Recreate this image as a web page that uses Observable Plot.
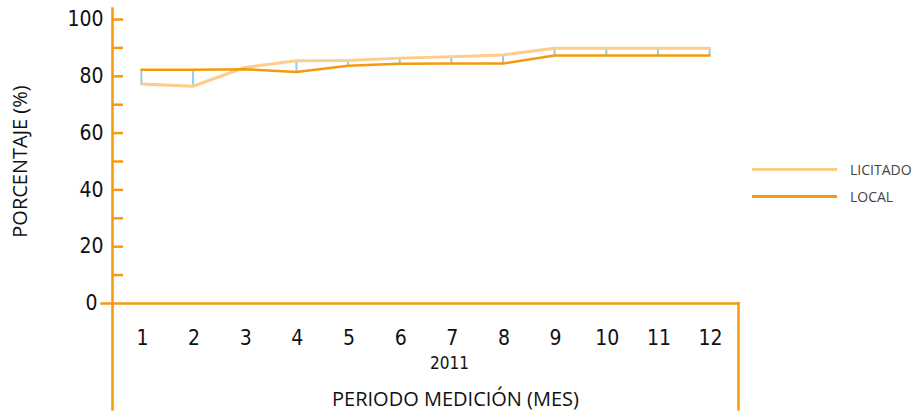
<!DOCTYPE html>
<html>
<head>
<meta charset="utf-8">
<script src="https://cdn.jsdelivr.net/npm/d3@7"></script>
<script src="https://cdn.jsdelivr.net/npm/@observablehq/plot@0.6"></script>
<style>
  html, body { margin: 0; padding: 0; background: #fff; }
  #wrap { position: relative; width: 919px; height: 420px; }
  .legend { position: absolute; left: 752px; font-family: 'Open Sans', sans-serif; font-size: 14px; color: #444; }
  .legend .item { position: absolute; left: 0; width: 170px; height: 20px; display: flex; align-items: center; }
  .legend .sw { width: 85px; height: 3px; margin-right: 13px; }
</style>
</head>
<body>
<div id="wrap"></div>
<script>
const months = [1, 2, 3, 4, 5, 6, 7, 8, 9, 10, 11, 12];
const licitado = [77.3, 76.5, 83.1, 85.5, 85.6, 86.4, 86.9, 87.5, 89.9, 89.9, 89.9, 89.9];
const local = [82.3, 82.3, 82.5, 81.5, 83.7, 84.4, 84.5, 84.5, 87.3, 87.3, 87.3, 87.3];
const seriesNames = ["LICITADO", "LOCAL"];
const seriesColors = ["#fdcd8a", "#f59a0c"];
const yLabeledTicks = [20, 40, 60, 80, 100];
const yAllTicks = [10, 20, 30, 40, 50, 60, 70, 80, 90, 100];
const yearLabel = "2011";
const xTitle = "PERIODO MEDICIÓN (MES)";
const yTitle = "PORCENTAJE (%)";

const axisColor = "#f59a0c";
const font = "'DejaVu Sans Condensed', sans-serif";
const titleFont = "'Open Sans', sans-serif";

const rows = [];
months.forEach((m, i) => {
  rows.push({month: m, value: licitado[i], series: seriesNames[0]});
  rows.push({month: m, value: local[i], series: seriesNames[1]});
});
const spans = months.map((m, i) => ({month: m, lo: Math.min(licitado[i], local[i]), hi: Math.max(licitado[i], local[i])}));

const chart = Plot.plot({
  width: 919,
  height: 420,
  marginLeft: 112,
  marginRight: 181,
  marginTop: 19,
  marginBottom: 117,
  style: {fontFamily: font, fontSize: "21px", color: "#111", background: "#fff"},
  x: {type: "point", domain: months, padding: 0.56, round: false, label: null},
  y: {domain: [0, 100], label: null},
  color: {domain: seriesNames, range: seriesColors},
  marks: [
    // axis frame lines
    Plot.frame({anchor: "left", stroke: axisColor, strokeWidth: 2.5, insetTop: -11, insetBottom: -106}),
    Plot.frame({anchor: "right", stroke: axisColor, strokeWidth: 2.5, insetTop: 284, insetBottom: -106}),
    Plot.frame({anchor: "bottom", stroke: axisColor, strokeWidth: 2.5, insetLeft: -11}),
    // inward ticks
    Plot.axisY({ticks: yAllTicks, tickSize: 11, dx: 11, stroke: axisColor, strokeWidth: 2.5, tickFormat: () => "", label: null}),
    // labels
    Plot.axisY({ticks: yLabeledTicks, tickSize: 0, tickPadding: 9, label: null, fill: "#111"}),
    Plot.axisY({ticks: [0], tickSize: 0, tickPadding: 15, label: null, fill: "#111"}),
    Plot.axisX({tickSize: 0, tickPadding: 27, label: null, dx: 1, fill: "#111"}),
    // high-low lines
    Plot.ruleX(spans, {x: "month", y1: "lo", y2: "hi", stroke: "#8ccfee", strokeWidth: 2}),
    // series lines
    Plot.line(rows, {x: "month", y: "value", z: "series", stroke: "series", strokeWidth: d => d.series === "LOCAL" ? 2.5 : 3}),
    // titles
    Plot.text([yearLabel], {frameAnchor: "bottom", dx: 24, dy: 65, fontSize: 17, fill: "#111"}),
    Plot.text([xTitle], {frameAnchor: "bottom", dx: 30, dy: 102, fontSize: 20, fontFamily: titleFont, fill: "#111"}),
    Plot.text([yTitle], {frameAnchor: "left", textAnchor: "middle", dx: -92, dy: 0, rotate: -90, fontSize: 20, fontFamily: titleFont, fill: "#111"})
  ]
});

const wrap = document.getElementById("wrap");
wrap.appendChild(chart);

const legend = document.createElement("div");
legend.className = "legend";
legend.style.top = "0px";
const legendTops = [159, 186];
seriesNames.forEach((name, i) => {
  const item = document.createElement("div");
  item.className = "item";
  item.style.top = legendTops[i] + "px";
  const sw = document.createElement("div");
  sw.className = "sw";
  sw.style.background = seriesColors[i];
  const label = document.createElement("span");
  label.textContent = name;
  item.appendChild(sw);
  item.appendChild(label);
  legend.appendChild(item);
});
wrap.appendChild(legend);
</script>
</body>
</html>
